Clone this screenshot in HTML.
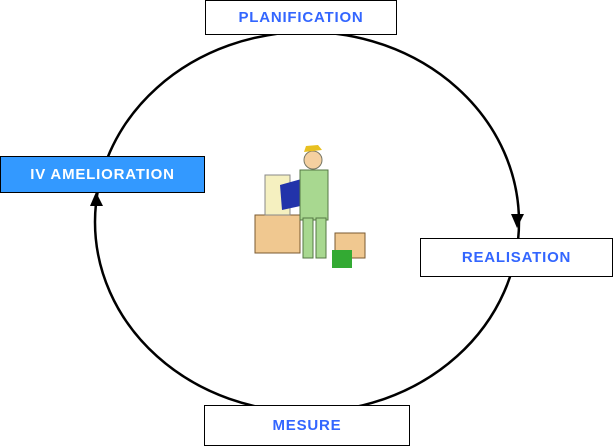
<!DOCTYPE html>
<html><head><style>
body{margin:0;width:615px;height:447px;background:#fff;position:relative;overflow:hidden;font-family:"Liberation Sans",sans-serif;}
.b{position:absolute;box-sizing:border-box;border:1.5px solid #000;background:#fff;color:#3366ff;font-weight:bold;font-size:15px;display:flex;align-items:center;justify-content:center;letter-spacing:0.8px;}
</style></head><body>
<svg width="615" height="447" style="position:absolute;left:0;top:0">
<ellipse cx="307" cy="222" rx="212" ry="190" fill="none" stroke="#000" stroke-width="2.5"/>
<polygon points="511,214 524,214 517,228" fill="#000"/>
<polygon points="90,206 103,206 96,192" fill="#000"/>
<rect x="255" y="215" width="45" height="38" fill="#f0c890" stroke="#7a5a30"/>
<rect x="265" y="175" width="25" height="40" fill="#f5f0c0" stroke="#888"/>
<polygon points="280,185 305,178 305,205 282,210" fill="#2233aa"/>
<rect x="300" y="170" width="28" height="50" fill="#a8d890" stroke="#557744"/>
<rect x="303" y="218" width="10" height="40" fill="#a8d890" stroke="#557744"/>
<rect x="316" y="218" width="10" height="40" fill="#a8d890" stroke="#557744"/>
<circle cx="313" cy="160" r="9" fill="#f5d0a0" stroke="#776"/>
<path d="M304 152 L322 150 L318 145 L306 146Z" fill="#e8c020"/>
<rect x="335" y="233" width="30" height="25" fill="#f0c890" stroke="#7a5a30"/>
<rect x="332" y="250" width="20" height="18" fill="#33aa33"/>
</svg>
<div class="b" style="left:205px;top:0;width:192px;height:35px;">PLANIFICATION</div>
<div class="b" style="left:0;top:156px;width:205px;height:37px;background:#3399ff;color:#fff;">IV AMELIORATION</div>
<div class="b" style="left:420px;top:238px;width:193px;height:39px;">REALISATION</div>
<div class="b" style="left:204px;top:405px;width:206px;height:41px;">MESURE</div>
</body></html>
